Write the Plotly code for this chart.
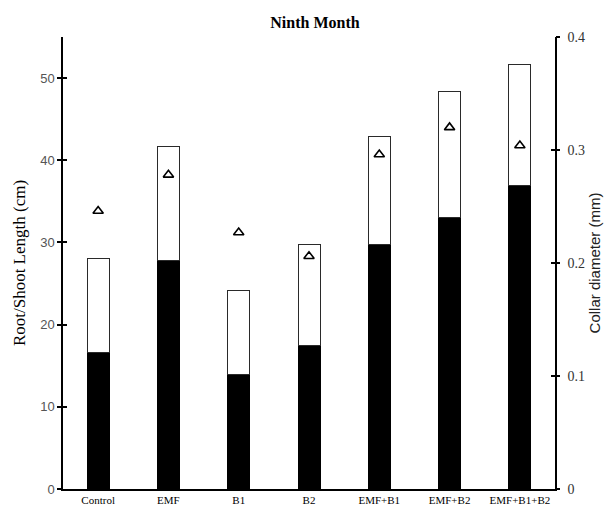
import plotly.graph_objects as go

treatments = ["Control", "EMF", "B1", "B2", "EMF+B1", "EMF+B2", "EMF+B1+B2"]
root_length = [16.6, 27.8, 13.9, 17.5, 29.8, 33.0, 36.9]
total_length = [28.0, 41.7, 24.1, 29.7, 42.9, 48.4, 51.7]
shoot_length = [round(t - r, 2) for t, r in zip(total_length, root_length)]
collar_diameter = [0.246, 0.278, 0.227, 0.206, 0.296, 0.320, 0.304]

serif = "Liberation Serif"
sans = "Liberation Sans"

fig = go.Figure()
fig.add_trace(go.Bar(
    x=treatments, y=root_length, name="Root",
    marker=dict(color="black", line=dict(color="black", width=1)),
))
fig.add_trace(go.Bar(
    x=treatments, y=shoot_length, name="Shoot",
    marker=dict(color="white", line=dict(color="#2a2a2a", width=1)),
))
fig.add_trace(go.Scatter(
    x=treatments, y=collar_diameter, yaxis="y2", mode="markers", name="Collar",
    marker=dict(symbol="triangle-up-open", size=9, color="black",
                line=dict(color="black", width=1.6)),
))

fig.update_layout(
    width=604, height=510,
    margin=dict(l=63, r=49, t=37, b=21),
    paper_bgcolor="white", plot_bgcolor="white",
    barmode="stack", bargap=0.687,
    showlegend=False, hovermode=False,
    title=dict(text="<b>Ninth Month</b>", x=315 / 604, xanchor="center",
               y=1 - 22 / 510, yanchor="middle",
               font=dict(family=serif, size=16, color="black")),
    xaxis=dict(
        automargin=False,
        showline=True, linecolor="black", linewidth=1.5, ticks="",
        tickfont=dict(family=serif, size=11, color="black"),
        showgrid=False, zeroline=False,
    ),
    yaxis=dict(
        automargin=False,
        range=[0, 55], tickvals=[0, 10, 20, 30, 40, 50],
        showline=True, linecolor="black", linewidth=1.5,
        ticks="outside", ticklen=4, tickwidth=1.5, tickcolor="black",
        tickfont=dict(family=sans, size=13, color="#555555"),
        title=dict(text="Root/Shoot Length (cm)", standoff=10,
                   font=dict(family=serif, size=17, color="black")),
        showgrid=False, zeroline=False,
    ),
    yaxis3=dict(
        automargin=False,
        range=[0, 55], overlaying="y", side="left", anchor="x",
        tickvals=[0, 10, 20, 30, 40, 50], showticklabels=False,
        ticks="inside", ticklen=4, tickwidth=1.5, tickcolor="black",
        showline=False, showgrid=False, zeroline=False,
    ),
    yaxis2=dict(
        automargin=False,
        range=[0, 0.4], tickvals=[0, 0.1, 0.2, 0.3, 0.4],
        ticktext=["0", "0.1", "0.2", "0.3", "0.4"],
        overlaying="y", side="right", anchor="x",
        showline=True, linecolor="black", linewidth=1.5,
        ticks="inside", ticklen=4, tickwidth=1.5, tickcolor="black",
        ticklabelstandoff=8,
        tickfont=dict(family=serif, size=14, color="#333333"),
        title=dict(text="Collar diameter (mm)", standoff=5,
                   font=dict(family=sans, size=15, color="#222222")),
        showgrid=False, zeroline=False,
    ),
    yaxis4=dict(
        automargin=False,
        range=[0, 0.4], overlaying="y", side="right", anchor="x",
        tickvals=[0, 0.1, 0.2, 0.3, 0.4], showticklabels=False,
        ticks="outside", ticklen=4, tickwidth=1.5, tickcolor="black",
        showline=False, showgrid=False, zeroline=False,
    ),
)

# tick-only overlay axes give the crossing tick marks
fig.add_trace(go.Scatter(x=[treatments[0]], y=[None], yaxis="y3",
                         showlegend=False, hoverinfo="skip"))
fig.add_trace(go.Scatter(x=[treatments[0]], y=[None], yaxis="y4",
                         showlegend=False, hoverinfo="skip"))

fig.write_html("out.html")
